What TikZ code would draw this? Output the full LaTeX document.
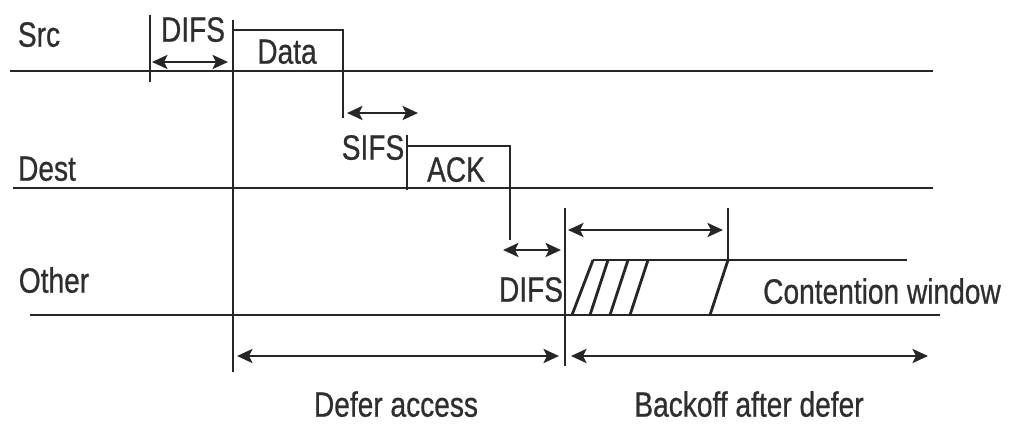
\documentclass[tikz,border=0pt]{standalone}
\usepackage{fontspec}
\setmainfont{Liberation Sans}[FakeStretch=0.8,FakeBold=0.6]
\usetikzlibrary{arrows.meta}
\begin{document}
\begin{tikzpicture}[x=0.025cm,y=-0.025cm,
  ln/.style={line width=2pt, color=black!85},
  dim/.style={line width=1.9pt, color=black!85, {Stealth[length=11pt,width=10pt,inset=2.5pt]}-{Stealth[length=11pt,width=10pt,inset=2.5pt]}},
  lbl/.style={inner sep=0pt, text height=18pt, text depth=0pt, text=black!82, font=\fontsize{25}{29}\selectfont}]
\useasboundingbox (0,0) rectangle (1010,423);
% labels
\node[lbl] (src) at (39,34) {Src};
\node[lbl] (dest) at (47,168) {Dest};
\node[lbl] (other) at (54,280) {Other};
\node[lbl] (difs1) at (193,29) {DIFS};
\node[lbl] (data) at (287,51) {Data};
\node[lbl] (sifs) at (373,147) {SIFS};
\node[lbl] (ack) at (456,169) {ACK};
\node[lbl] (difs2) at (531,289) {DIFS};
\node[lbl] (cw) at (882,291) {Contention window};
\node[lbl] (defer) at (396,404) {Defer access};
\node[lbl] (backoff) at (749,404) {Backoff after defer};
% time lines
\draw[ln] (10,71) -- (933,71);
\draw[ln] (13,188) -- (933,188);
\draw[ln] (30,315) -- (940,315);
% DIFS at source
\draw[ln] (150,15) -- (150,82);
\draw[dim] (152,62) -- (228,62);
% data frame + long marker
\draw[ln] (233,20) -- (233,372);
\draw[ln] (233,30) -- (343,30) -- (343,118);
% SIFS
\draw[dim] (347,113) -- (418,113);
\draw[ln] (407,135) -- (407,190);
\draw[ln] (407,146) -- (510,146) -- (510,240);
% DIFS at other
\draw[dim] (503,250) -- (561,250);
\draw[ln] (565,208) -- (565,366);
% backoff
\draw[dim] (568,230) -- (723,230);
\draw[ln] (728,208) -- (728,260);
\draw[ln] (593,260) -- (907,260);
\draw[ln] (572,315) -- (593,260);
\draw[ln] (590,315) -- (608,260);
\draw[ln] (610,315) -- (628,260);
\draw[ln] (630,315) -- (648,260);
\draw[ln] (710,315) -- (728,260);
% bottom spans
\draw[dim] (237,356) -- (559,356);
\draw[dim] (571,356) -- (928,356);
\end{tikzpicture}
\end{document}
